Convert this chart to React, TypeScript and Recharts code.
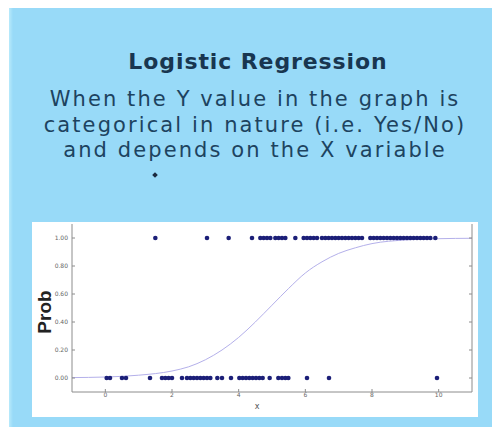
import React from "react";
import { ComposedChart, XAxis, YAxis, Scatter, Line, Label } from "recharts";

// Axis ticks
const xTicks = [0, 2, 4, 6, 8, 10];
const yTicks = [0, 0.2, 0.4, 0.6, 0.8, 1.0];

// Observations with outcome = 1 (Yes)
const yesX = [
  1.5, 3.05, 3.7, 4.4, 4.65, 4.75, 4.85, 4.95, 5.1, 5.2, 5.3, 5.4, 5.7, 5.95,
  6.05, 6.15, 6.25, 6.35, 6.5, 6.6, 6.7, 6.8, 6.9, 7.0, 7.1, 7.2, 7.3, 7.4,
  7.5, 7.6, 7.7, 7.95, 8.05, 8.15, 8.25, 8.35, 8.45, 8.55, 8.65, 8.75, 8.85,
  8.95, 9.05, 9.15, 9.25, 9.35, 9.45, 9.55, 9.65, 9.75, 9.9,
];

// Observations with outcome = 0 (No)
const noX = [
  0.04, 0.14, 0.5, 0.62, 1.34, 1.7, 1.8, 1.9, 2.0, 2.3, 2.45, 2.55, 2.65, 2.75,
  2.85, 2.95, 3.05, 3.15, 3.36, 3.5, 3.77, 4.02, 4.12, 4.22, 4.32, 4.42, 4.52,
  4.62, 4.72, 4.93, 5.19, 5.3, 5.4, 5.49, 6.05, 6.71, 9.95,
];

// Fitted logistic curve
const curveX = [-1, 0, 1, 2, 2.5, 3, 3.5, 4, 4.5, 5, 5.5, 6, 6.5, 7, 7.5, 8, 9, 10, 11];
const curveP = [
  0.003, 0.007, 0.02, 0.05, 0.08, 0.13, 0.2, 0.29, 0.4, 0.52, 0.64, 0.75, 0.83,
  0.89, 0.93, 0.96, 0.986, 0.995, 0.998,
];

const OUTCOME_YES = 1;
const OUTCOME_NO = 0;

const yesData = yesX.map((x) => ({ x, y: OUTCOME_YES }));
const noData = noX.map((x) => ({ x, y: OUTCOME_NO }));
const curveData = curveX.map((x, i) => ({ x, p: curveP[i] }));

const AXIS = "#8c8c8c";
const DOT = "#1c1f78";

const Dot = (props: any) => (
  <circle cx={props.cx} cy={props.cy} r={2.3} fill={DOT} />
);

const ProbLabel = (props: any) => {
  const vb = props.viewBox || { x: 0, y: 0, width: 0, height: 0 };
  const cx = vb.x + 12;
  const cy = vb.y + vb.height / 2 + 4;
  return (
    <text
      x={cx}
      y={cy}
      transform={`rotate(-90, ${cx}, ${cy})`}
      textAnchor="middle"
      dominantBaseline="central"
      fontFamily="'Liberation Sans', Arial, sans-serif"
      fontSize={19}
      fontWeight={700}
      fill="#222"
    >
      Prob
    </text>
  );
};

const tickStyle = {
  fontSize: 6,
  fill: "#666",
  stroke: "none",
  fontFamily: "'DejaVu Sans', sans-serif",
};

export default function App() {
  return (
    <div
      style={{
        position: "absolute",
        left: 0,
        top: 0,
        width: 492,
        height: 427,
        background: "#ffffff",
        overflow: "hidden",
      }}
    >
      <div
        style={{
          position: "absolute",
          left: 9,
          top: 8,
          width: 483,
          height: 419,
          background: "linear-gradient(to right, #b8eafb 0px, #98daf8 4px)",
        }}
      />
      <div
        style={{
          position: "absolute",
          left: 0,
          top: 47,
          width: 516,
          textAlign: "center",
          fontFamily: "'DejaVu Sans', sans-serif",
          fontWeight: 700,
          fontSize: 22,
          letterSpacing: 0.9,
          color: "#183650",
          lineHeight: "30px",
        }}
      >
        Logistic Regression
      </div>
      <div
        style={{
          position: "absolute",
          left: 0,
          top: 87,
          width: 510,
          textAlign: "center",
          fontFamily: "'DejaVu Sans', sans-serif",
          fontSize: 21,
          color: "#1d4360",
          lineHeight: "25.5px",
          letterSpacing: 2.1,
        }}
      >
        <div>When the Y value in the graph is</div>
        <div>categorical in nature (i.e. Yes/No)</div>
        <div>and depends on the X variable</div>
      </div>
      <div
        style={{
          position: "absolute",
          left: 153,
          top: 173,
          width: 4,
          height: 4,
          background: "#1b2a40",
          transform: "rotate(45deg)",
        }}
      />
      <div
        style={{
          position: "absolute",
          left: 32,
          top: 222,
          width: 446,
          height: 195,
          background: "#ffffff",
        }}
      >
        <ComposedChart
          width={446}
          height={195}
          margin={{ top: 2, right: 5, bottom: 0, left: 0 }}
        >
          <XAxis
            xAxisId="b"
            type="number"
            dataKey="x"
            domain={[-1, 11]}
            ticks={xTicks}
            allowDataOverflow
            height={25}
            stroke={AXIS}
            tickSize={-3}
            tickMargin={4}
            tick={tickStyle}
          >
            <Label
              value="x"
              position="insideBottom"
              offset={8}
              dx={-15}
              style={{ fontSize: 8, fill: "#555", fontFamily: "'DejaVu Sans', sans-serif" }}
            />
          </XAxis>
          <XAxis
            xAxisId="t"
            orientation="top"
            type="number"
            dataKey="x"
            domain={[-1, 11]}
            ticks={xTicks}
            allowDataOverflow
            height={0}
            stroke={AXIS}
            tickSize={-3}
            tickFormatter={() => ""}
          />
          <YAxis
            yAxisId="l"
            type="number"
            domain={[-0.1, 1.1]}
            ticks={yTicks}
            allowDataOverflow
            width={40}
            stroke={AXIS}
            tickSize={-3}
            tickMargin={7}
            tick={tickStyle}
            tickFormatter={(v: number) => v.toFixed(2)}
          >
            <Label content={ProbLabel} />
          </YAxis>
          <YAxis
            yAxisId="r"
            orientation="right"
            type="number"
            domain={[-0.1, 1.1]}
            ticks={yTicks}
            allowDataOverflow
            width={1}
            stroke={AXIS}
            tickSize={-3}
            tickFormatter={() => ""}
          />
          <Line
            xAxisId="b"
            yAxisId="l"
            data={curveData}
            dataKey="p"
            type="monotone"
            stroke="#b4b0ea"
            strokeWidth={1}
            dot={false}
            isAnimationActive={false}
          />
          <Scatter
            xAxisId="b"
            yAxisId="l"
            data={noData}
            dataKey="y"
            shape={Dot}
            isAnimationActive={false}
          />
          <Scatter
            xAxisId="b"
            yAxisId="l"
            data={yesData}
            dataKey="y"
            shape={Dot}
            isAnimationActive={false}
          />
        </ComposedChart>
      </div>
    </div>
  );
}
